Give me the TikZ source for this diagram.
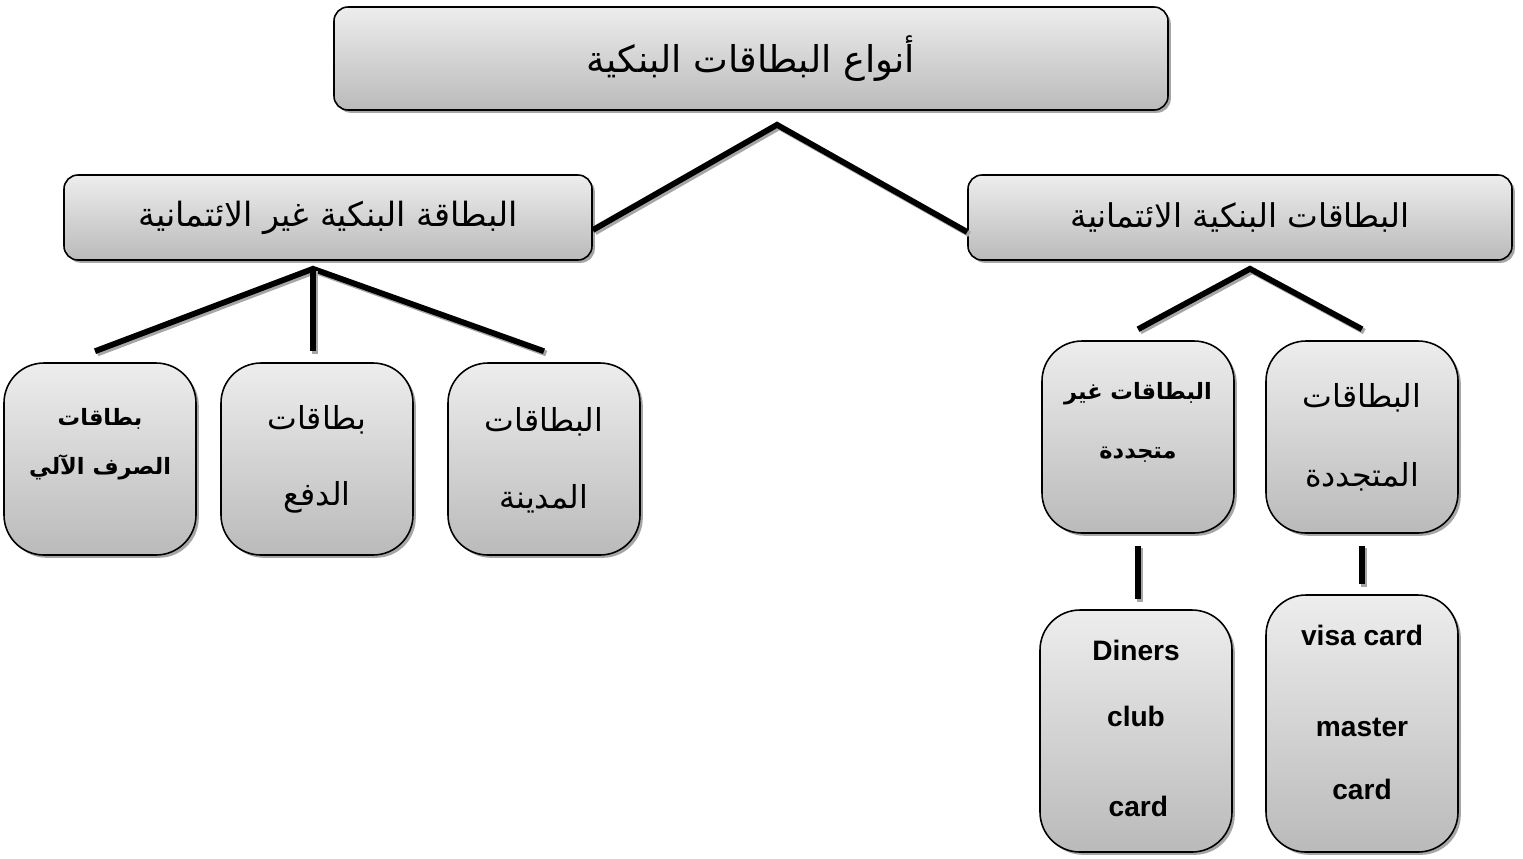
\documentclass[tikz,border=0pt]{standalone}
\usepackage{fontspec}
\setmainfont{Liberation Sans}
\newfontfamily\arabicfont[Script=Arabic]{DejaVu Sans}
\TeXXeTstate=1
\usepackage{tikz}
\usetikzlibrary{shadows,positioning}

\begin{document}
\begin{tikzpicture}[semithick]
  \tikzstyle{every box}=[draw=black,line width=0.9pt,top color=black!7,bottom color=black!27,
                         drop shadow={shadow xshift=1.6pt,shadow yshift=-1.6pt,fill=black!35,opacity=1}]
  \tikzstyle{wide box}=[every box,rounded corners=0.28cm]
  \tikzstyle{card box}=[every box,rounded corners=0.8cm,minimum width=3.84cm]
  \tikzstyle{lbl}=[align=center,inner sep=0pt]
  \tikzstyle{big ar}=[lbl,font=\arabicfont\fontsize{18}{21}\selectfont]
  \tikzstyle{small ar}=[lbl,font=\arabicfont\bfseries\fontsize{12.8}{15}\selectfont]
  \tikzstyle{latin}=[lbl,font=\bfseries\fontsize{16}{19}\selectfont]
  \tikzstyle{conn}=[line width=3.3pt,line join=miter,
                    preaction={draw=black!35,line width=3.3pt,transform canvas={xshift=1.3pt,yshift=-1.3pt}}]

  \useasboundingbox (0,0) rectangle (30.46,-17.16);

  % levels 0 and 1
  \node[wide box,minimum width=16.68cm,minimum height=2.06cm,font=\arabicfont\fontsize{21}{25}\selectfont]
        (types) at (15.02,-1.17) {\beginR أنواع البطاقات البنكية\endR};
  \node[wide box,minimum width=10.56cm,minimum height=1.7cm,font=\arabicfont\fontsize{19}{22}\selectfont]
        (noncredit) at (6.56,-4.35) {\beginR البطاقة البنكية غير الائتمانية\endR};
  \node[wide box,minimum width=10.88cm,minimum height=1.7cm,font=\arabicfont\fontsize{18.6}{22}\selectfont]
        (credit) at (24.8,-4.35) {\beginR البطاقات البنكية الائتمانية\endR};

  % level 2
  \node[card box,minimum height=3.84cm] (atm)      at (2.0,-9.18)  {};
  \node[card box,minimum height=3.84cm] (payment)  at (6.34,-9.18) {};
  \node[card box,minimum height=3.84cm] (debit)    at (10.88,-9.18) {};
  \node[card box,minimum height=3.84cm] (nonrenew) at (22.76,-8.74) {};
  \node[card box,minimum height=3.84cm] (renew)    at (27.24,-8.74) {};

  \node[small ar] (atmtxt) at ([yshift=0.3cm]atm.center)
        {\beginR بطاقات\endR\\[0.45cm]\beginR الصرف الآلي\endR};
  \node[big ar] (paytxt) at ([yshift=0.0cm]payment.center)
        {\beginR بطاقات\endR\\[0.78cm]\beginR الدفع\endR};
  \node[big ar] (debittxt) at ([yshift=-0.02cm]debit.center)
        {\beginR البطاقات\endR\\[0.8cm]\beginR المدينة\endR};
  \node[small ar] (nonrenewtxt) at ([yshift=0.3cm]nonrenew.center)
        {\beginR البطاقات غير\endR\\[0.65cm]\beginR متجددة\endR};
  \node[big ar] (renewtxt) at ([yshift=0.0cm]renew.center)
        {\beginR البطاقات\endR\\[0.85cm]\beginR المتجددة\endR};

  % level 3
  \node[card box,minimum height=4.84cm] (diners) at (22.72,-14.62) {};
  \node[card box,minimum height=5.14cm] (visa)   at (27.24,-14.47) {};
  \node[latin] (dinerstxt) at ([yshift=0.05cm]diners.center)
        {Diners\\[0.65cm]club\\[1.15cm]\,card};
  \node[latin] (visatxt) at ([yshift=0.22cm]visa.center)
        {visa card\\[1.15cm]master\\[0.6cm]card};

  % connectors
  \coordinate (ta) at ([xshift=0.52cm,yshift=-0.28cm]types.south);
  \coordinate (la) at ([xshift=-0.3cm,yshift=-0.16cm]noncredit.south);
  \coordinate (ra) at ([xshift=0.2cm,yshift=-0.16cm]credit.south);

  \draw[conn] ([yshift=-0.25cm]noncredit.east) -- (ta) -- ([yshift=-0.29cm]credit.west);
  \draw[conn] ([xshift=-0.1cm,yshift=0.22cm]atm.north) -- (la) -- ([yshift=0.22cm]debit.north);
  \draw[conn] (la) -- ([yshift=0.22cm]la |- payment.north);
  \draw[conn] ([yshift=0.22cm]nonrenew.north) -- (ra) -- ([yshift=0.22cm]renew.north);
  \draw[conn] ([yshift=-0.24cm]nonrenew.south) -- ([yshift=0.2cm]nonrenew.south |- diners.north);
  \draw[conn] ([yshift=-0.24cm]renew.south) -- ([yshift=0.2cm]visa.north);
\end{tikzpicture}
\end{document}
